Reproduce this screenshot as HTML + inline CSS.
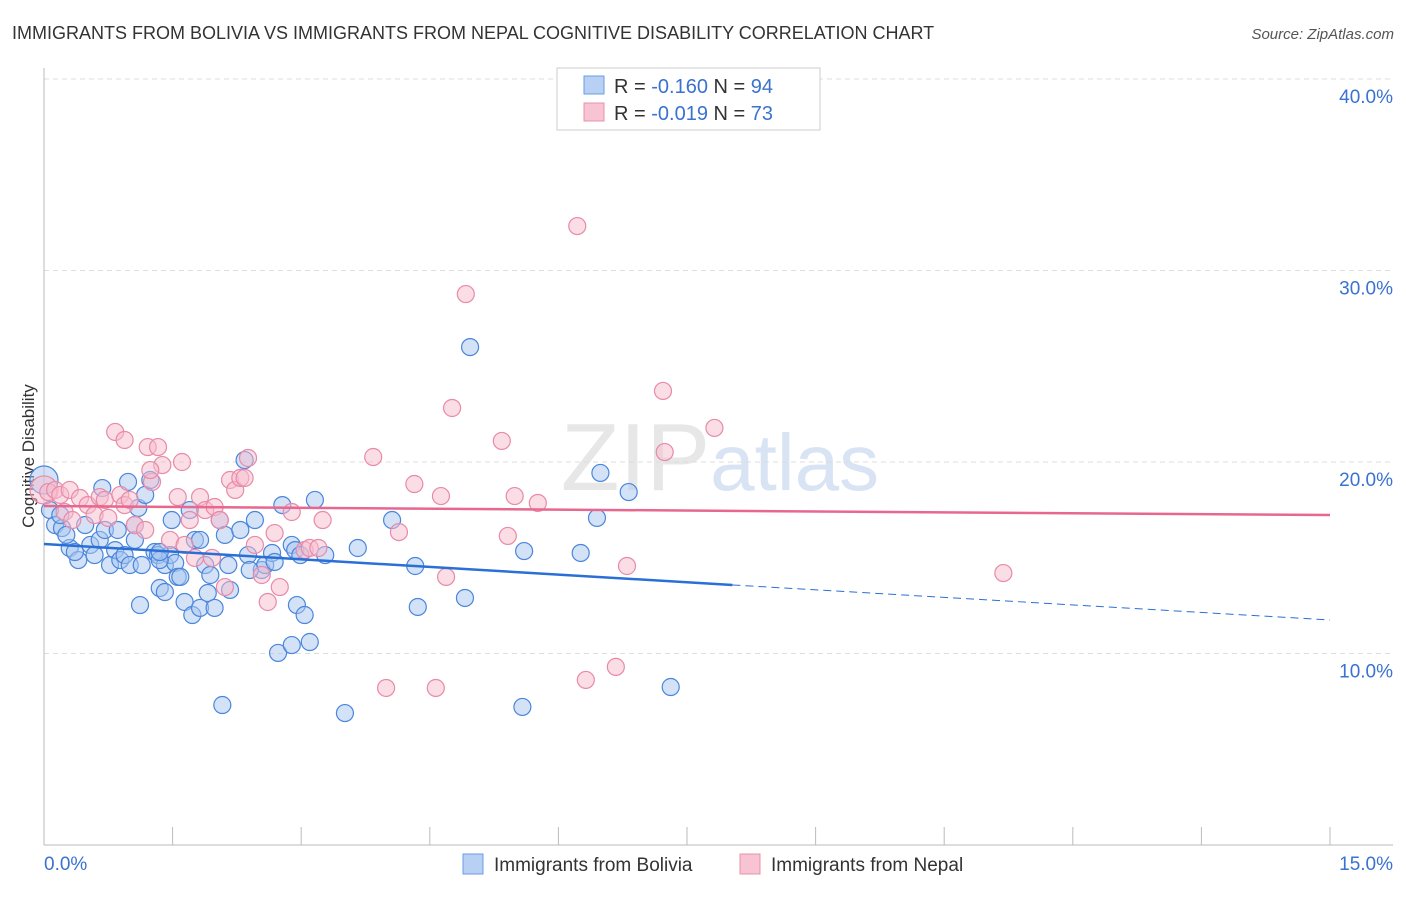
<!DOCTYPE html>
<html><head><meta charset="utf-8"><style>
body{margin:0;background:#fff;font-family:"Liberation Sans",sans-serif}
svg text{font-family:"Liberation Sans",sans-serif}
</style></head><body>
<svg id="chart" width="1406" height="892" xmlns="http://www.w3.org/2000/svg">
<text x="12" y="39" font-size="18" fill="#333">IMMIGRANTS FROM BOLIVIA VS IMMIGRANTS FROM NEPAL COGNITIVE DISABILITY CORRELATION CHART</text>
<text x="1394" y="39" font-size="15" fill="#555" text-anchor="end" font-style="italic">Source: ZipAtlas.com</text>
<text x="720" y="490" font-size="96" text-anchor="middle" fill="#ddd" font-family="Liberation Serif" opacity="0.7">ZIP<tspan fill="#c8d8ee" font-family="Liberation Sans" font-size="80">atlas</tspan></text>
<text transform="translate(34,456) rotate(-90)" font-size="17" fill="#333" text-anchor="middle">Cognitive Disability</text>
<g id="grid"></g><g id="marks"></g>
<g>
<rect x="557" y="68" width="263" height="62" fill="#fff" stroke="#ccc"/>
<rect x="584" y="76" width="20" height="18" fill="#b8d0f4" stroke="#6a9ee0"/>
<rect x="584" y="103" width="20" height="18" fill="#f8c4d4" stroke="#e890aa"/>
<text x="614" y="93" font-size="20" fill="#333">R = <tspan fill="#3a72d0">-0.160</tspan>   N = <tspan fill="#3a72d0">94</tspan></text>
<text x="614" y="120" font-size="20" fill="#333">R = <tspan fill="#3a72d0">-0.019</tspan>   N = <tspan fill="#3a72d0">73</tspan></text>
</g>
<g>
<rect x="463" y="854" width="20" height="20" fill="#b8d0f4" stroke="#6a9ee0"/>
<text x="494" y="871" font-size="19" fill="#333">Immigrants from Bolivia</text>
<rect x="740" y="854" width="20" height="20" fill="#f8c4d4" stroke="#e890aa"/>
<text x="771" y="871" font-size="19" fill="#333">Immigrants from Nepal</text>
</g>
</svg>
<script>
const xTicks=[0,1.5,3,4.5,6,7.5,9,10.5,12,13.5,15];
const yTicks=[10,20,30,40];
const yTickLabels=["10.0%","20.0%","30.0%","40.0%"];
const boliviaX=[0,0.07,0.13,0.21,0.30,0.40,0.36,0.48,0.54,0.59,0.65,0.68,0.71,0.77,0.83,0.86,0.89,0.94,0.98,1.00,1.06,1.10,1.12,1.14,1.18,1.24,1.29,1.33,1.35,1.41,1.41,1.47,1.49,1.53,1.56,1.59,1.64,1.70,1.73,1.76,1.82,1.88,1.91,1.94,1.99,2.05,2.11,2.15,2.17,2.08,2.29,2.34,2.38,2.46,2.54,2.58,2.66,2.69,2.73,2.78,2.89,2.93,2.95,2.99,3.04,3.10,2.89,3.16,3.28,3.51,3.66,4.06,4.33,4.36,4.91,4.97,5.58,5.60,6.26,6.45,6.49,6.82,7.31,0.19,0.26,1.06,1.35,1.82,2.40,1.35];
const boliviaY=[19.06,17.49,16.71,16.55,15.51,14.88,15.30,16.71,15.67,15.14,15.93,18.64,16.45,14.62,15.40,16.45,14.88,15.14,18.96,14.62,15.93,17.60,12.53,14.62,18.28,19.06,15.30,15.14,13.42,13.21,14.62,15.14,16.97,14.73,14.0,14.0,12.69,17.49,12.01,15.93,12.38,14.62,13.16,14.10,12.38,16.97,16.19,14.62,13.32,7.31,16.45,20.10,15.14,16.97,14.36,14.62,15.25,14.78,10.03,17.75,15.67,15.40,12.53,15.14,12.01,10.60,10.44,18.02,15.14,6.89,15.51,16.97,14.57,12.43,12.90,26.0,7.21,15.35,15.25,17.08,19.43,18.43,8.25,17.23,16.19,16.71,14.88,15.93,14.36,15.30];
const nepalX=[0,0.05,0.13,0.19,0.24,0.30,0.42,0.51,0.59,0.65,0.71,0.83,0.89,0.94,1.00,1.06,1.18,1.21,1.26,1.33,1.38,1.47,1.56,1.61,1.64,1.70,1.76,1.82,1.88,1.96,1.99,2.05,2.11,2.17,2.23,2.29,2.34,2.38,2.46,2.54,2.61,2.69,2.75,2.89,3.04,3.10,3.20,3.25,3.84,3.99,4.14,4.32,4.57,4.63,4.69,4.76,4.92,5.34,5.41,5.49,5.76,6.22,6.32,6.67,6.80,7.22,7.24,7.82,11.19,0.75,0.33,0.94,1.24];
const nepalY=[18.54,18.43,18.54,18.28,17.39,18.54,18.12,17.75,17.23,18.17,18.02,21.57,18.28,17.75,18.02,16.71,16.45,20.78,18.96,20.78,19.84,15.93,18.17,20.0,15.67,16.97,14.99,18.17,17.49,14.99,17.65,16.97,13.47,19.06,18.54,19.17,19.17,20.21,15.67,14.10,12.69,16.29,13.47,17.39,15.40,15.51,15.51,16.97,20.26,8.20,16.34,18.85,8.20,18.22,14.0,22.82,28.77,21.10,16.14,18.22,17.86,32.32,8.62,9.30,14.57,23.71,20.52,21.78,14.20,17.08,16.97,21.15,19.58];
const boliviaFit=[15.72,13.58,11.75]; // at x=0, x=8.03 (solid end), x=15
const boliviaFitSolidEnd=8.03;
const nepalFit=[17.7,17.23]; // at x=0, x=15
const NS="http://www.w3.org/2000/svg";
const L=44,R=1330,B=845,T=79;
const sx=v=>L+(R-L)*v/15;
const sy=v=>B-(B-T)*v/40;
function mk(tag,attrs,parent){const e=document.createElementNS(NS,tag);for(const k in attrs)e.setAttribute(k,attrs[k]);parent.appendChild(e);return e;}
const grid=document.getElementById('grid'),marks=document.getElementById('marks');
yTicks.forEach((t,i)=>{
 const g=mk('line',{x1:L,x2:1393,y1:sy(t),y2:sy(t),stroke:'#ddd','stroke-dasharray':'5,4'},grid);
 
 
 const tx=mk('text',{x:1393,y:sy(t)+24,'font-size':19,fill:'#3a72d0','text-anchor':'end'},grid);
 tx.textContent=yTickLabels[i];
 
 
});
const ax=mk('line',{x1:L,x2:L,y1:68,y2:B,stroke:'#bbb'},grid);


const xa=mk('line',{x1:L,x2:1393,y1:B,y2:B,stroke:'#bbb'},grid);


xTicks.forEach(t=>{
 const tk=mk('line',{x1:sx(t),x2:sx(t),y1:B,y2:B-18,stroke:'#bbb'},grid);
 
 
});
[[0,'0.0%','start',44],[15,'15.0%','end',1393]].forEach(a=>{
 const tx=mk('text',{x:a[3],y:870,'font-size':19,fill:'#3a72d0','text-anchor':a[2]},grid);
 tx.textContent=a[1];
 
 
});
function pts(X,Y,fill,stroke,name){
 X.forEach((x,i)=>{
  const c=mk('circle',{cx:sx(x),cy:sy(Y[i]),r:(i===0?14:8.5),fill:fill,'fill-opacity':0.5,stroke:stroke,'stroke-width':1.2},marks);
  
  
 });
}
pts(boliviaX,boliviaY,'#a8c6f0','#4a86dc','bolivia-point');
pts(nepalX,nepalY,'#f8bccd','#e88aa8','nepal-point');
const b1=mk('line',{x1:sx(0),y1:sy(boliviaFit[0]),x2:sx(boliviaFitSolidEnd),y2:sy(boliviaFit[1]),stroke:'#2a6fd6','stroke-width':2.5},marks);


const b2=mk('line',{x1:sx(boliviaFitSolidEnd),y1:sy(boliviaFit[1]),x2:sx(15),y2:sy(boliviaFit[2]),stroke:'#2a6fd6','stroke-width':1,'stroke-dasharray':'8,5'},marks);


const n1=mk('line',{x1:sx(0),y1:sy(nepalFit[0]),x2:sx(15),y2:sy(nepalFit[1]),stroke:'#e8678f','stroke-width':2.5},marks);


</script>
</body></html>
